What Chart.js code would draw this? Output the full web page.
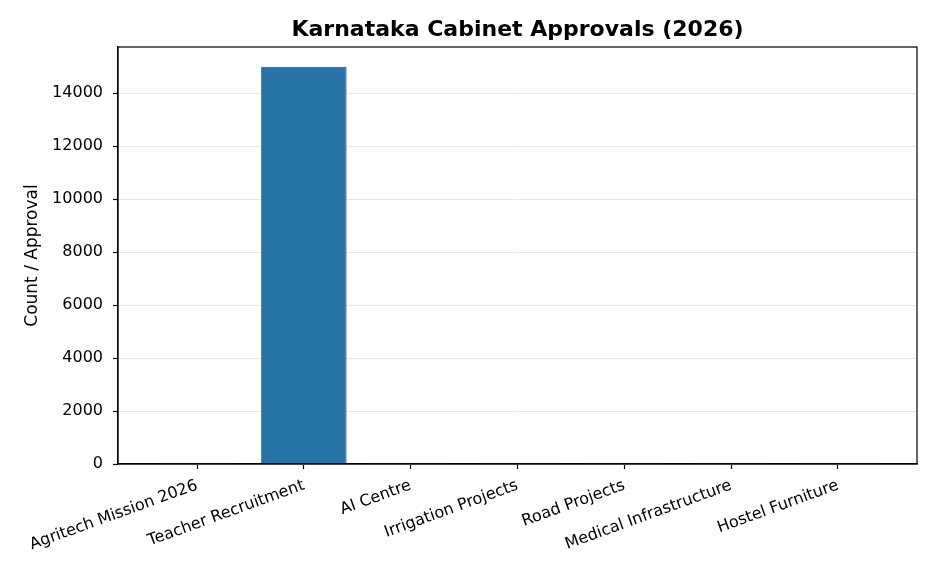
<!DOCTYPE html>
<html>
<head>
<meta charset="utf-8">
<script src="https://cdn.jsdelivr.net/npm/chart.js@4/dist/chart.umd.min.js"></script>
<style>
html,body{margin:0;padding:0;background:#fff;}
#wrap{width:936px;height:572px;position:relative;}
</style>
</head>
<body>
<div id="wrap"><canvas id="c" width="936" height="572"></canvas></div>
<script>
const categories = ["Agritech Mission 2026", "Teacher Recruitment", "AI Centre", "Irrigation Projects", "Road Projects", "Medical Infrastructure", "Hostel Furniture"];
const counts = [1, 15000, 1, 1, 1, 1, 1];
const yTicks = [0, 2000, 4000, 6000, 8000, 10000, 12000, 14000];
const titleText = "Karnataka Cabinet Approvals (2026)";
const yLabel = "Count / Approval";

const FONT = "'DejaVu Sans', sans-serif";

const frame = {
  id: 'frame',
  afterDraw(chart) {
    const {ctx, chartArea: a} = chart;
    ctx.save();
    ctx.strokeStyle = '#000';
    ctx.lineWidth = 1.2;
    ctx.strokeRect(a.left, a.top, a.right - a.left, a.bottom - a.top);
    ctx.fillStyle = '#000';
    ctx.font = "bold 22px " + FONT;
    ctx.textAlign = 'center';
    ctx.textBaseline = 'middle';
    ctx.fillText(titleText, (a.left + a.right) / 2, 30);
    ctx.font = "17px " + FONT;
    ctx.translate(33, (a.top + a.bottom) / 2);
    ctx.rotate(-Math.PI / 2);
    ctx.fillText(yLabel, 0, 0);
    ctx.restore();
  }
};

new Chart(document.getElementById('c'), {
  type: 'bar',
  data: {
    datasets: [{
      data: counts.map((v, i) => ({x: i, y: v})),
      backgroundColor: '#2874a6',
      borderColor: '#1f4f73',
      borderWidth: 0.8,
      barPercentage: 0.8,
      categoryPercentage: 1.0
    }]
  },
  options: {
    responsive: false,
    animation: false,
    devicePixelRatio: 1,
    layout: {padding: {left: 0, right: 19, top: 47, bottom: 0}},
    plugins: {legend: {display: false}, tooltip: {enabled: false}, title: {display: false}},
    scales: {
      x: {
        type: 'linear',
        offset: false,
        min: -0.74,
        max: 6.74,
        afterBuildTicks(s) { s.ticks = categories.map((c, i) => ({value: i})); },
        afterFit(s) { s.height = 108; },
        grid: {display: true, offset: false, drawOnChartArea: false, drawTicks: true, tickLength: 5, tickColor: '#000', tickWidth: 1.2},
        border: {display: true, color: '#000', width: 1.2},
        ticks: {
          autoSkip: false,
          maxRotation: 20,
          minRotation: 20,
          padding: 7,
          color: '#000',
          font: {family: FONT, size: 16},
          callback: (v) => categories[Math.round(v)] ?? ''
        }
      },
      y: {
        min: 0,
        max: 15750,
        afterBuildTicks(s) { s.ticks = yTicks.map(v => ({value: v})); },
        afterFit(s) { s.width = 118; },
        grid: {display: true, color: '#e6e6e6', lineWidth: 1, drawTicks: true, tickLength: 5, tickColor: '#000', tickWidth: 1.2},
        border: {display: true, color: '#000', width: 1.2},
        ticks: {
          color: '#000',
          padding: 10,
          font: {family: FONT, size: 16},
          callback: (v) => String(v)
        }
      }
    }
  },
  plugins: [frame]
});
</script>
</body>
</html>
